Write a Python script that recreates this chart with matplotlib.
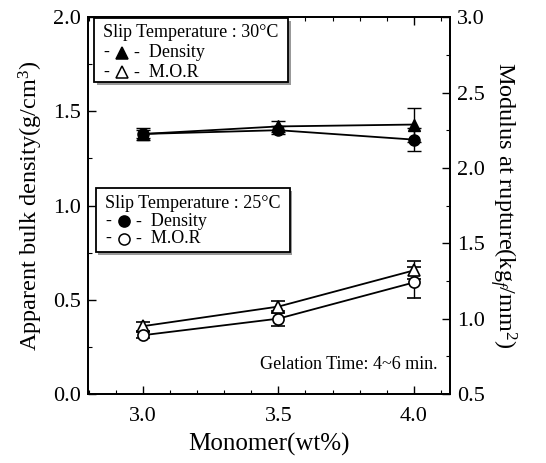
import matplotlib
matplotlib.use("Agg")
import matplotlib.pyplot as plt
from matplotlib.ticker import MultipleLocator, FormatStrFormatter

plt.rcParams['font.family'] = ['Liberation Serif', 'DejaVu Serif']
plt.rcParams['mathtext.fontset'] = 'custom'
plt.rcParams['mathtext.rm'] = 'Liberation Serif'
plt.rcParams['mathtext.it'] = 'Liberation Serif:italic'

monomer = [3.0, 3.5, 4.0]
dens_30 = [1.38, 1.42, 1.43]
dens_30_err = [0.03, 0.03, 0.09]
dens_25 = [1.38, 1.40, 1.35]
dens_25_err = [0.02, 0.02, 0.06]
mor_30 = [0.95, 1.08, 1.32]
mor_30_err = [0.03, 0.04, 0.06]
mor_25 = [0.89, 1.00, 1.24]
mor_25_err = [0.02, 0.05, 0.10]

fig = plt.figure(figsize=(5.46, 4.63), dpi=100)
ax = fig.add_axes([0.161, 0.149, 0.663, 0.814])
ax2 = ax.twinx()

kw = dict(color='black', lw=1.3, capsize=5, elinewidth=1.0, capthick=1.0, markersize=8)
ax.errorbar(monomer, dens_30, yerr=dens_30_err, marker='^', mfc='black', mec='black', **kw)
ax.errorbar(monomer, dens_25, yerr=dens_25_err, marker='o', mfc='black', mec='black', **kw)
ax2.errorbar(monomer, mor_30, yerr=mor_30_err, marker='^', mfc='white', mec='black', mew=1.2, **kw)
ax2.errorbar(monomer, mor_25, yerr=mor_25_err, marker='o', mfc='white', mec='black', mew=1.2, **kw)

ax.set_xlim(2.797, 4.133)
ax.set_ylim(0.0, 2.0)
ax2.set_ylim(0.5, 3.0)

ax.xaxis.set_major_locator(MultipleLocator(0.5))
ax.xaxis.set_minor_locator(MultipleLocator(0.1))
ax.yaxis.set_major_locator(MultipleLocator(0.5))
ax.yaxis.set_minor_locator(MultipleLocator(0.25))
ax2.yaxis.set_major_locator(MultipleLocator(0.5))
ax2.yaxis.set_minor_locator(MultipleLocator(0.25))
for axis in (ax.xaxis, ax.yaxis, ax2.yaxis):
    axis.set_major_formatter(FormatStrFormatter('%.1f'))

ax.tick_params(axis='x', which='both', direction='in', top=True, labelsize=16, pad=9)
ax.tick_params(axis='y', which='both', direction='in', labelsize=16, pad=5)
ax2.tick_params(axis='y', which='both', direction='in', labelsize=16, pad=5)
for a in (ax, ax2):
    a.tick_params(which='major', length=6, width=1.0)
    a.tick_params(which='minor', length=3, width=0.8)
    for s in a.spines.values():
        s.set_linewidth(1.3)

ax.set_xlabel('Monomer(wt%)', fontsize=18, labelpad=5)
ax.set_ylabel('Apparent bulk density(g/cm$^3$)', fontsize=17.5, labelpad=6)
ax2.set_ylabel('Modulus at rupture(kg$_{\\it f}$/mm$^2$)', fontsize=17.5, rotation=270, labelpad=25)

# legend boxes
def legend_box(x0, y0, w, h, title, entries, dy):
    rect = plt.Rectangle((x0, y0), w, h, transform=ax.transAxes, fc='white',
                         ec='black', lw=1.3, zorder=5)
    shadow = plt.Rectangle((x0 + 0.007, y0 - 0.007), w, h, transform=ax.transAxes,
                           fc='#999999', ec='none', zorder=4)
    ax.add_patch(shadow)
    ax.add_patch(rect)
    tx = x0 + 0.025
    ty = y0 + h - 0.04
    ax.text(tx, ty, title, transform=ax.transAxes,
            fontsize=13, va='center', ha='left', zorder=6)
    for i, (marker, fc, label) in enumerate(entries):
        yy = ty - (i + 1) * dy
        ax.text(tx, yy, '-', transform=ax.transAxes, fontsize=13, va='center', ha='left', zorder=6)
        ax.plot([tx + 0.052], [yy], transform=ax.transAxes, marker=marker, ms=8,
                mfc=fc, mec='black', mew=1.1, ls='none', zorder=6, clip_on=False)
        ax.text(tx + 0.085, yy, '-  ' + label, transform=ax.transAxes, fontsize=13,
                va='center', ha='left', zorder=6)

legend_box(0.017, 0.828, 0.536, 0.17, 'Slip Temperature : 30°C',
           [('^', 'black', 'Density'), ('^', 'white', 'M.O.R')], 0.052)
legend_box(0.022, 0.377, 0.536, 0.169, 'Slip Temperature : 25°C',
           [('o', 'black', 'Density'), ('o', 'white', 'M.O.R')], 0.047)

ax.text(0.965, 0.055, 'Gelation Time: 4~6 min.', transform=ax.transAxes,
        fontsize=13, ha='right', va='bottom')

fig.savefig('out.png', dpi=100)
